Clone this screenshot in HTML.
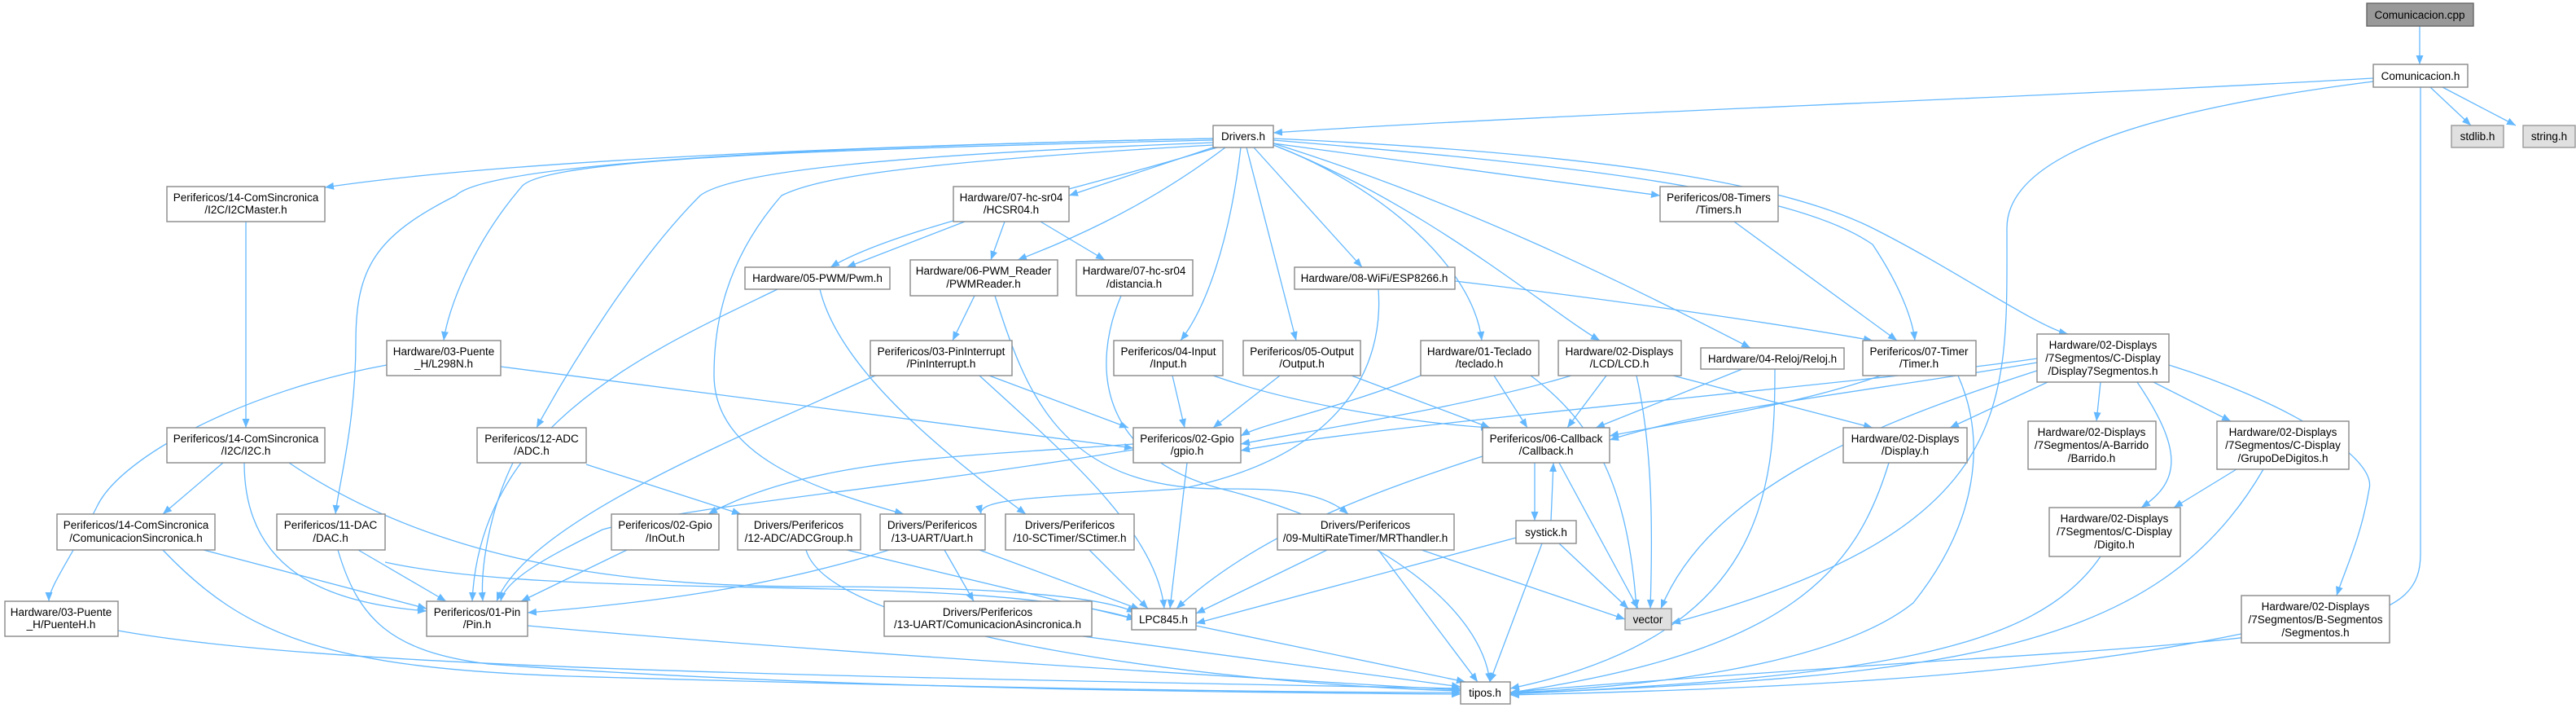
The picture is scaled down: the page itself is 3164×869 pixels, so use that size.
<!DOCTYPE html>
<html><head><meta charset="utf-8"><style>
html,body{margin:0;padding:0;background:#fff;}
svg{display:block;}
text{font-family:"Liberation Sans",Arial,sans-serif;font-size:13.5px;fill:#000;text-anchor:middle;}
.n{fill:#fff;stroke:#888;stroke-width:1.4;}
.g{fill:#e0e0e0;stroke:#999;stroke-width:1.4;}
.d{fill:#999;stroke:#666;stroke-width:1.4;}
path.e{fill:none;stroke:#63b8ff;stroke-width:1.3;marker-end:url(#a);}
</style></head><body>
<svg width="3164" height="869" viewBox="0 0 3164 869" xmlns="http://www.w3.org/2000/svg">
<defs><marker id="a" markerUnits="userSpaceOnUse" markerWidth="12" markerHeight="10" refX="11" refY="4.5" orient="auto"><path d="M0,0 L11,4.5 L0,9 z" fill="#63b8ff"/></marker></defs>
<g>
<path class="e" d="M2972 32 L2972 79"/>
<path class="e" d="M2915 96 C2500 120,1900 140,1564 163"/>
<path class="e" d="M2985 107 L3035 154"/>
<path class="e" d="M3000 107 L3090 154"/>
<path class="e" d="M2915 100 C2600 140,2465 200,2465 280 C2465 500,2480 650,2053 765"/>
<path class="e" d="M2973 107 L2973 680 C2973 760,2900 780,2400 810 C2100 830,1900 845,1855 850"/>
<path class="e" d="M1490 170 C1000 180,600 200,399 230"/>
<path class="e" d="M1490 172 C900 185,660 200,640 230 C580 300,550 380,545 418"/>
<path class="e" d="M1490 170 C1000 180,600 200,560 240 C460 290,437 330,437 420 C437 520,415 600,412 631"/>
<path class="e" d="M1490 175 C1100 190,900 210,860 240 C780 320,700 450,659 525"/>
<path class="e" d="M1495 181 C1300 240,1100 280,1020 328"/>
<path class="e" d="M1490 181 L1313 240"/>
<path class="e" d="M1505 181 C1400 260,1300 300,1250 319"/>
<path class="e" d="M1490 178 C1100 200,1000 220,960 240 C890 320,877 400,877 460 C877 560,1000 600,1110 631"/>
<path class="e" d="M1524 181 C1510 300,1480 380,1450 418"/>
<path class="e" d="M1531 181 L1592 418"/>
<path class="e" d="M1540 181 L1673 328"/>
<path class="e" d="M1564 178 C1700 230,1810 330,1820 418"/>
<path class="e" d="M1564 178 C1750 250,1900 380,1965 418"/>
<path class="e" d="M1564 176 C1800 250,2000 350,2150 427"/>
<path class="e" d="M1564 176 L2039 240"/>
<path class="e" d="M1564 172 C1900 200,2200 230,2300 300 C2340 360,2350 400,2352 418"/>
<path class="e" d="M1564 170 C2000 190,2200 230,2300 280 C2400 330,2500 400,2540 410"/>
<path class="e" d="M302 272 L302 525"/>
<path class="e" d="M1185 272 L1040 328"/>
<path class="e" d="M1234 272 L1217 319"/>
<path class="e" d="M1278 272 L1357 319"/>
<path class="e" d="M955 355 C800 430,590 520,580 738"/>
<path class="e" d="M1007 355 C1030 450,1150 550,1260 631"/>
<path class="e" d="M1197 363 L1170 418"/>
<path class="e" d="M1222 363 C1260 480,1300 600,1500 600 C1560 600,1620 600,1656 631"/>
<path class="e" d="M1377 363 C1340 450,1350 560,1500 600 C1700 650,1820 750,1830 837"/>
<path class="e" d="M1693 355 C1700 450,1650 560,1450 600 C1300 610,1200 610,1205 631"/>
<path class="e" d="M1787 345 C2000 370,2200 400,2300 418"/>
<path class="e" d="M1215 461 L1386 525"/>
<path class="e" d="M1203 461 C1300 550,1420 650,1430 747"/>
<path class="e" d="M1075 461 C900 540,650 640,610 738"/>
<path class="e" d="M475 448 C300 480,150 560,120 620 C90 680,60 720,60 738"/>
<path class="e" d="M615 450 L1392 550"/>
<path class="e" d="M274 568 L200 631"/>
<path class="e" d="M300 568 C300 700,400 740,524 750"/>
<path class="e" d="M355 568 C550 700,800 720,1000 720 C1200 720,1350 730,1395 752"/>
<path class="e" d="M630 568 C600 630,590 700,593 738"/>
<path class="e" d="M720 570 L910 631"/>
<path class="e" d="M440 675 L548 738"/>
<path class="e" d="M473 690 C700 740,1200 700,1395 760"/>
<path class="e" d="M415 675 C440 760,480 800,600 815 C1000 845,1500 850,1794 852"/>
<path class="e" d="M250 675 L524 747"/>
<path class="e" d="M200 675 C300 780,400 820,700 830 C1200 845,1600 850,1794 850"/>
<path class="e" d="M770 675 L640 738"/>
<path class="e" d="M1040 675 L1395 760"/>
<path class="e" d="M990 675 C1020 780,1500 840,1794 848"/>
<path class="e" d="M1160 675 L1196 738"/>
<path class="e" d="M1203 675 L1400 748"/>
<path class="e" d="M1092 675 C950 720,800 740,648 752"/>
<path class="e" d="M1338 675 L1410 747"/>
<path class="e" d="M1630 675 L1469 753"/>
<path class="e" d="M1693 675 L1815 837"/>
<path class="e" d="M1746 675 L1996 760"/>
<path class="e" d="M1392 545 C1200 560,1000 560,870 631"/>
<path class="e" d="M1392 552 C1100 600,850 620,740 650 C680 680,620 710,615 738"/>
<path class="e" d="M1458 568 L1437 747"/>
<path class="e" d="M1440 461 L1455 525"/>
<path class="e" d="M1490 461 C1600 500,1750 520,1830 525"/>
<path class="e" d="M1572 461 L1490 525"/>
<path class="e" d="M1660 461 L1830 525"/>
<path class="e" d="M1745 461 C1650 500,1550 520,1524 535"/>
<path class="e" d="M1835 461 L1876 525"/>
<path class="e" d="M1880 461 C1960 520,2000 600,2010 747"/>
<path class="e" d="M1930 461 C1800 500,1600 530,1524 545"/>
<path class="e" d="M1973 461 L1925 525"/>
<path class="e" d="M2010 461 C2030 550,2030 650,2027 747"/>
<path class="e" d="M2055 461 L2300 525"/>
<path class="e" d="M2140 453 L1960 525"/>
<path class="e" d="M2180 453 C2180 600,2170 780,1855 845"/>
<path class="e" d="M2130 272 L2330 418"/>
<path class="e" d="M2310 461 C2200 500,2050 520,1977 535"/>
<path class="e" d="M2405 461 C2440 540,2430 640,2350 740 C2250 820,2000 845,1855 850"/>
<path class="e" d="M2502 440 C2300 470,1700 520,1524 553"/>
<path class="e" d="M2502 445 C2300 480,2100 500,1977 540"/>
<path class="e" d="M2502 455 C2300 520,2100 600,2040 747"/>
<path class="e" d="M2515 469 L2395 525"/>
<path class="e" d="M2580 469 L2575 517"/>
<path class="e" d="M2645 469 L2740 517"/>
<path class="e" d="M2625 469 C2680 550,2680 590,2630 623"/>
<path class="e" d="M2664 448 C2800 490,2920 560,2910 600 C2900 660,2880 700,2870 731"/>
<path class="e" d="M1885 568 L1885 639"/>
<path class="e" d="M1821 560 C1700 600,1550 650,1445 747"/>
<path class="e" d="M1915 568 L2012 747"/>
<path class="e" d="M1905 639 L1908 568"/>
<path class="e" d="M1862 660 L1469 765"/>
<path class="e" d="M1915 667 L2000 747"/>
<path class="e" d="M1894 667 L1830 837"/>
<path class="e" d="M2320 568 C2280 700,2200 800,1855 850"/>
<path class="e" d="M2580 683 C2500 800,2300 830,1855 852"/>
<path class="e" d="M2780 576 C2650 800,2400 830,1855 851"/>
<path class="e" d="M2747 576 L2670 623"/>
<path class="e" d="M2753 778 C2500 830,2200 845,1855 853"/>
<path class="e" d="M145 774 C400 820,1000 830,1794 845"/>
<path class="e" d="M648 768 C1000 800,1500 830,1794 847"/>
<path class="e" d="M1330 781 L1794 843"/>
<path class="e" d="M1469 768 L1800 837"/>
</g>
<g>
<rect class="d" x="2907" y="4" width="131" height="28"/><text x="2972" y="23">Comunicacion.cpp</text>
<rect class="n" x="2915" y="79" width="116" height="28"/><text x="2973" y="98">Comunicacion.h</text>
<rect class="g" x="3011" y="154" width="64" height="27"/><text x="3043" y="172">stdlib.h</text>
<rect class="g" x="3099" y="154" width="64" height="27"/><text x="3131" y="172">string.h</text>
<rect class="n" x="1490" y="154" width="74" height="27"/><text x="1527" y="172">Drivers.h</text>
<rect class="n" x="205" y="229" width="194" height="43"/><text x="302" y="247">Perifericos/14-ComSincronica</text><text x="302" y="262">/I2C/I2CMaster.h</text>
<rect class="n" x="1171" y="229" width="142" height="43"/><text x="1242" y="247">Hardware/07-hc-sr04</text><text x="1242" y="262">/HCSR04.h</text>
<rect class="n" x="2039" y="229" width="145" height="43"/><text x="2111" y="247">Perifericos/08-Timers</text><text x="2111" y="262">/Timers.h</text>
<rect class="n" x="915" y="328" width="178" height="27"/><text x="1004" y="346">Hardware/05-PWM/Pwm.h</text>
<rect class="n" x="1118" y="319" width="181" height="44"/><text x="1208" y="337">Hardware/06-PWM_Reader</text><text x="1208" y="353">/PWMReader.h</text>
<rect class="n" x="1322" y="319" width="143" height="44"/><text x="1393" y="337">Hardware/07-hc-sr04</text><text x="1393" y="353">/distancia.h</text>
<rect class="n" x="1590" y="328" width="197" height="27"/><text x="1688" y="346">Hardware/08-WiFi/ESP8266.h</text>
<rect class="n" x="475" y="418" width="140" height="43"/><text x="545" y="436">Hardware/03-Puente</text><text x="545" y="451">_H/L298N.h</text>
<rect class="n" x="1069" y="418" width="174" height="43"/><text x="1156" y="436">Perifericos/03-PinInterrupt</text><text x="1156" y="451">/PinInterrupt.h</text>
<rect class="n" x="1368" y="418" width="134" height="43"/><text x="1435" y="436">Perifericos/04-Input</text><text x="1435" y="451">/Input.h</text>
<rect class="n" x="1527" y="418" width="144" height="43"/><text x="1599" y="436">Perifericos/05-Output</text><text x="1599" y="451">/Output.h</text>
<rect class="n" x="1745" y="418" width="145" height="43"/><text x="1817" y="436">Hardware/01-Teclado</text><text x="1817" y="451">/teclado.h</text>
<rect class="n" x="1914" y="418" width="151" height="43"/><text x="1989" y="436">Hardware/02-Displays</text><text x="1989" y="451">/LCD/LCD.h</text>
<rect class="n" x="2089" y="427" width="176" height="26"/><text x="2177" y="445">Hardware/04-Reloj/Reloj.h</text>
<rect class="n" x="2288" y="418" width="139" height="43"/><text x="2357" y="436">Perifericos/07-Timer</text><text x="2357" y="451">/Timer.h</text>
<rect class="n" x="2502" y="410" width="162" height="59"/><text x="2583" y="428">Hardware/02-Displays</text><text x="2583" y="444">/7Segmentos/C-Display</text><text x="2583" y="460">/Display7Segmentos.h</text>
<rect class="n" x="1392" y="525" width="132" height="43"/><text x="1458" y="543">Perifericos/02-Gpio</text><text x="1458" y="558">/gpio.h</text>
<rect class="n" x="1821" y="525" width="156" height="43"/><text x="1899" y="543">Perifericos/06-Callback</text><text x="1899" y="558">/Callback.h</text>
<rect class="n" x="205" y="525" width="194" height="43"/><text x="302" y="543">Perifericos/14-ComSincronica</text><text x="302" y="558">/I2C/I2C.h</text>
<rect class="n" x="586" y="525" width="134" height="43"/><text x="653" y="543">Perifericos/12-ADC</text><text x="653" y="558">/ADC.h</text>
<rect class="n" x="2264" y="525" width="152" height="43"/><text x="2340" y="543">Hardware/02-Displays</text><text x="2340" y="558">/Display.h</text>
<rect class="n" x="2491" y="517" width="157" height="59"/><text x="2569" y="535">Hardware/02-Displays</text><text x="2569" y="551">/7Segmentos/A-Barrido</text><text x="2569" y="567">/Barrido.h</text>
<rect class="n" x="2723" y="517" width="162" height="59"/><text x="2804" y="535">Hardware/02-Displays</text><text x="2804" y="551">/7Segmentos/C-Display</text><text x="2804" y="567">/GrupoDeDigitos.h</text>
<rect class="n" x="70" y="631" width="194" height="44"/><text x="167" y="649">Perifericos/14-ComSincronica</text><text x="167" y="665">/ComunicacionSincronica.h</text>
<rect class="n" x="340" y="631" width="133" height="44"/><text x="406" y="649">Perifericos/11-DAC</text><text x="406" y="665">/DAC.h</text>
<rect class="n" x="751" y="631" width="132" height="44"/><text x="817" y="649">Perifericos/02-Gpio</text><text x="817" y="665">/InOut.h</text>
<rect class="n" x="906" y="631" width="151" height="44"/><text x="981" y="649">Drivers/Perifericos</text><text x="981" y="665">/12-ADC/ADCGroup.h</text>
<rect class="n" x="1081" y="631" width="129" height="44"/><text x="1145" y="649">Drivers/Perifericos</text><text x="1145" y="665">/13-UART/Uart.h</text>
<rect class="n" x="1235" y="631" width="158" height="44"/><text x="1314" y="649">Drivers/Perifericos</text><text x="1314" y="665">/10-SCTimer/SCtimer.h</text>
<rect class="n" x="1569" y="631" width="217" height="44"/><text x="1677" y="649">Drivers/Perifericos</text><text x="1677" y="665">/09-MultiRateTimer/MRThandler.h</text>
<rect class="n" x="1862" y="639" width="74" height="28"/><text x="1899" y="658">systick.h</text>
<rect class="n" x="2517" y="623" width="161" height="60"/><text x="2597" y="641">Hardware/02-Displays</text><text x="2597" y="657">/7Segmentos/C-Display</text><text x="2597" y="673">/Digito.h</text>
<rect class="n" x="6" y="738" width="139" height="43"/><text x="75" y="756">Hardware/03-Puente</text><text x="75" y="771">_H/PuenteH.h</text>
<rect class="n" x="524" y="738" width="124" height="43"/><text x="586" y="756">Perifericos/01-Pin</text><text x="586" y="771">/Pin.h</text>
<rect class="n" x="1086" y="738" width="255" height="43"/><text x="1213" y="756">Drivers/Perifericos</text><text x="1213" y="771">/13-UART/ComunicacionAsincronica.h</text>
<rect class="n" x="1390" y="747" width="79" height="26"/><text x="1429" y="765">LPC845.h</text>
<rect class="g" x="1996" y="747" width="57" height="26"/><text x="2024" y="765">vector</text>
<rect class="n" x="2753" y="731" width="182" height="58"/><text x="2844" y="749">Hardware/02-Displays</text><text x="2844" y="765">/7Segmentos/B-Segmentos</text><text x="2844" y="781">/Segmentos.h</text>
<rect class="n" x="1794" y="837" width="61" height="27"/><text x="1824" y="855">tipos.h</text>
</g>
</svg>
</body></html>
